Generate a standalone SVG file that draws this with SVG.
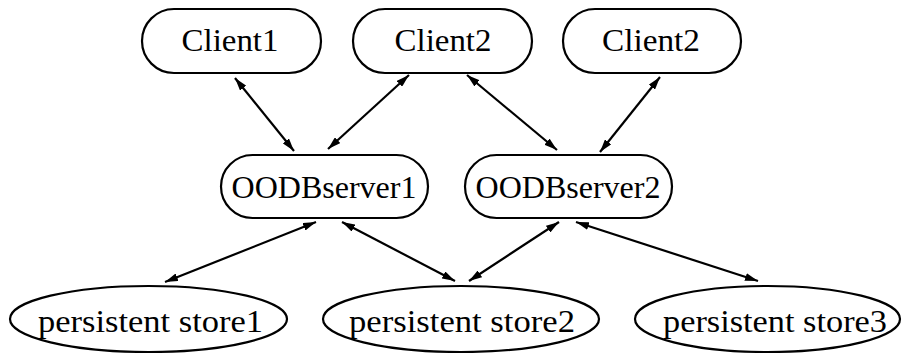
<svg xmlns="http://www.w3.org/2000/svg" width="902" height="353" viewBox="0 0 902 353">
<style>
.n{fill:#fff;stroke:#000;stroke-width:2.2}
.t{font-family:"Liberation Serif","Times New Roman",serif;font-size:32px;fill:#000;text-anchor:middle}
.e{fill:none;stroke:#000;stroke-width:2.2;marker-start:url(#ah);marker-end:url(#ah)}
</style>
<defs>
<marker id="ah" viewBox="0 0 13 8" refX="13" refY="4" markerWidth="13" markerHeight="8" markerUnits="userSpaceOnUse" orient="auto-start-reverse">
<path d="M0,0 L13,4 L0,8 z" fill="#000"/>
</marker>
</defs>
<rect width="902" height="353" fill="#fff"/>
<g id="connectors">
<path class="e" d="M235,78 L294,151"/>
<path class="e" d="M409,75 L328,149"/>
<path class="e" d="M467,75 L557,150"/>
<path class="e" d="M660,77 L600,152"/>
<path class="e" d="M316,222 L165,282"/>
<path class="e" d="M342,222 L455,281"/>
<path class="e" d="M559,222 L469,281"/>
<path class="e" d="M576,222 L758,281"/>
</g>
<g id="client1">
<rect class="n" x="142" y="9" width="179" height="64" rx="32"/>
<text class="t" x="230" y="51" textLength="97" lengthAdjust="spacingAndGlyphs">Client1</text>
</g>
<g id="client2a">
<rect class="n" x="353" y="9" width="179" height="64" rx="32"/>
<text class="t" x="443" y="51" textLength="97" lengthAdjust="spacingAndGlyphs">Client2</text>
</g>
<g id="client2b">
<rect class="n" x="563" y="9" width="178" height="64" rx="32"/>
<text class="t" x="651" y="51" textLength="98" lengthAdjust="spacingAndGlyphs">Client2</text>
</g>
<g id="oodb1">
<rect class="n" x="221" y="155" width="207" height="63" rx="31.5"/>
<text class="t" x="324" y="198" textLength="185" lengthAdjust="spacingAndGlyphs">OODBserver1</text>
</g>
<g id="oodb2">
<rect class="n" x="465" y="155" width="207" height="63" rx="31.5"/>
<text class="t" x="568" y="198" textLength="185" lengthAdjust="spacingAndGlyphs">OODBserver2</text>
</g>
<g id="store1">
<ellipse class="n" cx="148.5" cy="319" rx="138.5" ry="33"/>
<text class="t" x="150.5" y="332" textLength="225" lengthAdjust="spacingAndGlyphs">persistent store1</text>
</g>
<g id="store2">
<ellipse class="n" cx="461" cy="319" rx="138" ry="33"/>
<text class="t" x="462" y="332" textLength="226" lengthAdjust="spacingAndGlyphs">persistent store2</text>
</g>
<g id="store3">
<ellipse class="n" cx="767.5" cy="319" rx="132.5" ry="33"/>
<text class="t" x="775" y="332" textLength="224" lengthAdjust="spacingAndGlyphs">persistent store3</text>
</g>
</svg>
